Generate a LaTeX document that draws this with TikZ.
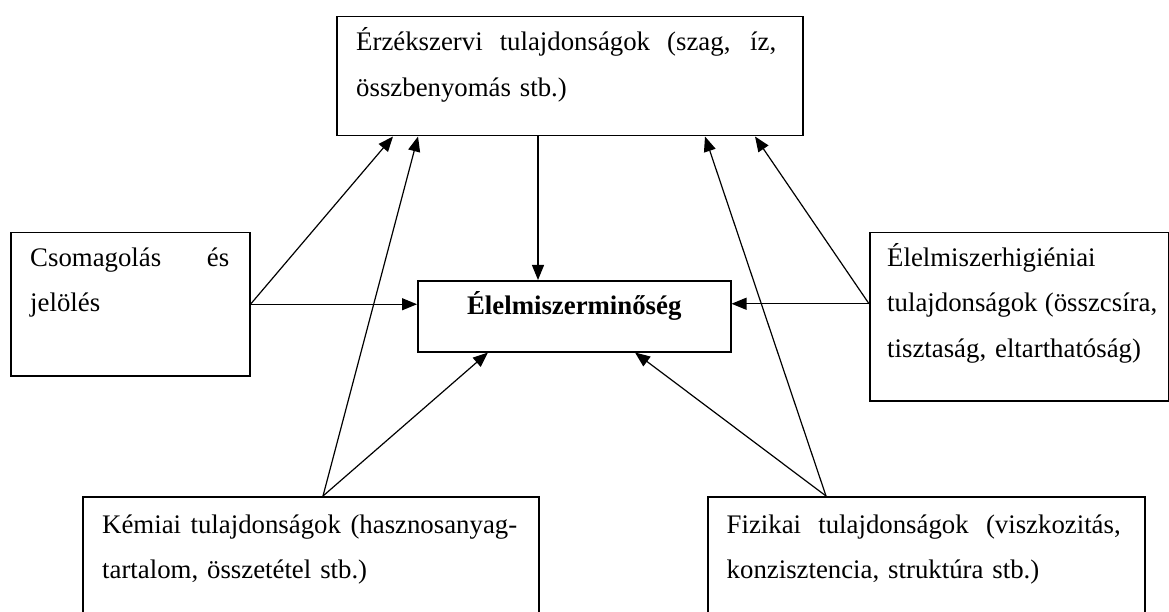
\documentclass[tikz,border=0pt]{standalone}
\usepackage{fontspec}
\setmainfont{Liberation Serif}
\usetikzlibrary{arrows.meta}

\tikzset{
  frame/.style={draw, line width=1.5pt, inner sep=0pt, anchor=north west},
  body/.style={inner sep=0pt, anchor=base west, align=left,
    font=\fontsize{26.8}{45.5}\selectfont},
  link/.style={line width=1.2pt, -{Triangle[length=15pt,width=12pt]}},
}
% a line stretched to a given width (justified)
\newcommand{\jline}[2]{\leavevmode\hbox to #1{\spaceskip=0.25em plus 1fil\relax #2}}

\begin{document}
\begin{tikzpicture}[x=1pt,y=-1pt]
\useasboundingbox (0,0) rectangle (1169,612);
\clip (0,0) rectangle (1169,612);
\fill[white] (0,0) rectangle (1169,612);

% boxes
\node[frame, minimum width=466pt, minimum height=119pt] (sens) at (336,16) {};
\node[frame, minimum width=239pt, minimum height=143pt] (pack) at (10,232) {};
\node[frame, minimum width=313pt, minimum height=71pt]  (qual) at (417,280) {};
\node[frame, minimum width=299pt, minimum height=168pt] (hyg)  at (869,232) {};
\node[frame, minimum width=456pt, minimum height=160pt] (chem) at (82,496) {};
\node[frame, minimum width=437pt, minimum height=160pt] (phys) at (707,496) {};

% texts
\node[body, text width=420pt] (sensT) at ([xshift=20pt,yshift=-35pt]sens.north west)
  {\jline{420pt}{Érzékszervi tulajdonságok (szag, íz,}\\összbenyomás stb.)};
\node[body, text width=199pt] (packT) at ([xshift=20pt,yshift=-34pt]pack.north west)
  {\jline{199pt}{Csomagolás és}\\jelölés};
\node[inner sep=0pt, anchor=base, font=\fontsize{26.8}{45.5}\selectfont\bfseries]
  (qualT) at ([yshift=-34pt]qual.north) {Élelmiszerminőség};
\node[body, text width=270pt] (hygT) at ([xshift=18pt,yshift=-34pt]hyg.north west)
  {Élelmiszerhigiéniai\\\jline{270pt}{tulajdonságok (összcsíra,}\\tisztaság, eltarthatóság)};
\node[body, text width=415pt] (chemT) at ([xshift=20pt,yshift=-37pt]chem.north west)
  {\jline{415pt}{Kémiai tulajdonságok (hasznosanyag-}\\tartalom, összetétel stb.)};
\node[body, text width=394pt] (physT) at ([xshift=19.5pt,yshift=-37pt]phys.north west)
  {\jline{394pt}{Fizikai tulajdonságok (viszkozitás,}\\konzisztencia, struktúra stb.)};

% connector start points
\coordinate (hygOut)  at ([yshift=13pt]hyg.west);
\coordinate (chemOut) at ([xshift=241pt]chem.north west);
\coordinate (physOut) at ([xshift=119pt]phys.north west);

% connectors
\draw[link] ([xshift=202pt]sens.south west) -- ([xshift=121pt]qual.north west);
\draw[link] (pack.east) -- (pack.east -| qual.west);
\draw[link] (hygOut) -- (hygOut -| qual.east);
\draw[link] (pack.east) -- ([xshift=57pt]sens.south west);
\draw[link] (chemOut) -- ([xshift=82pt]sens.south west);
\draw[link] (chemOut) -- ([xshift=71pt]qual.south west);
\draw[link] (physOut) -- ([xshift=369pt]sens.south west);
\draw[link] (physOut) -- ([xshift=218pt]qual.south west);
\draw[link] (hygOut) -- ([xshift=419pt]sens.south west);
\end{tikzpicture}
\end{document}
